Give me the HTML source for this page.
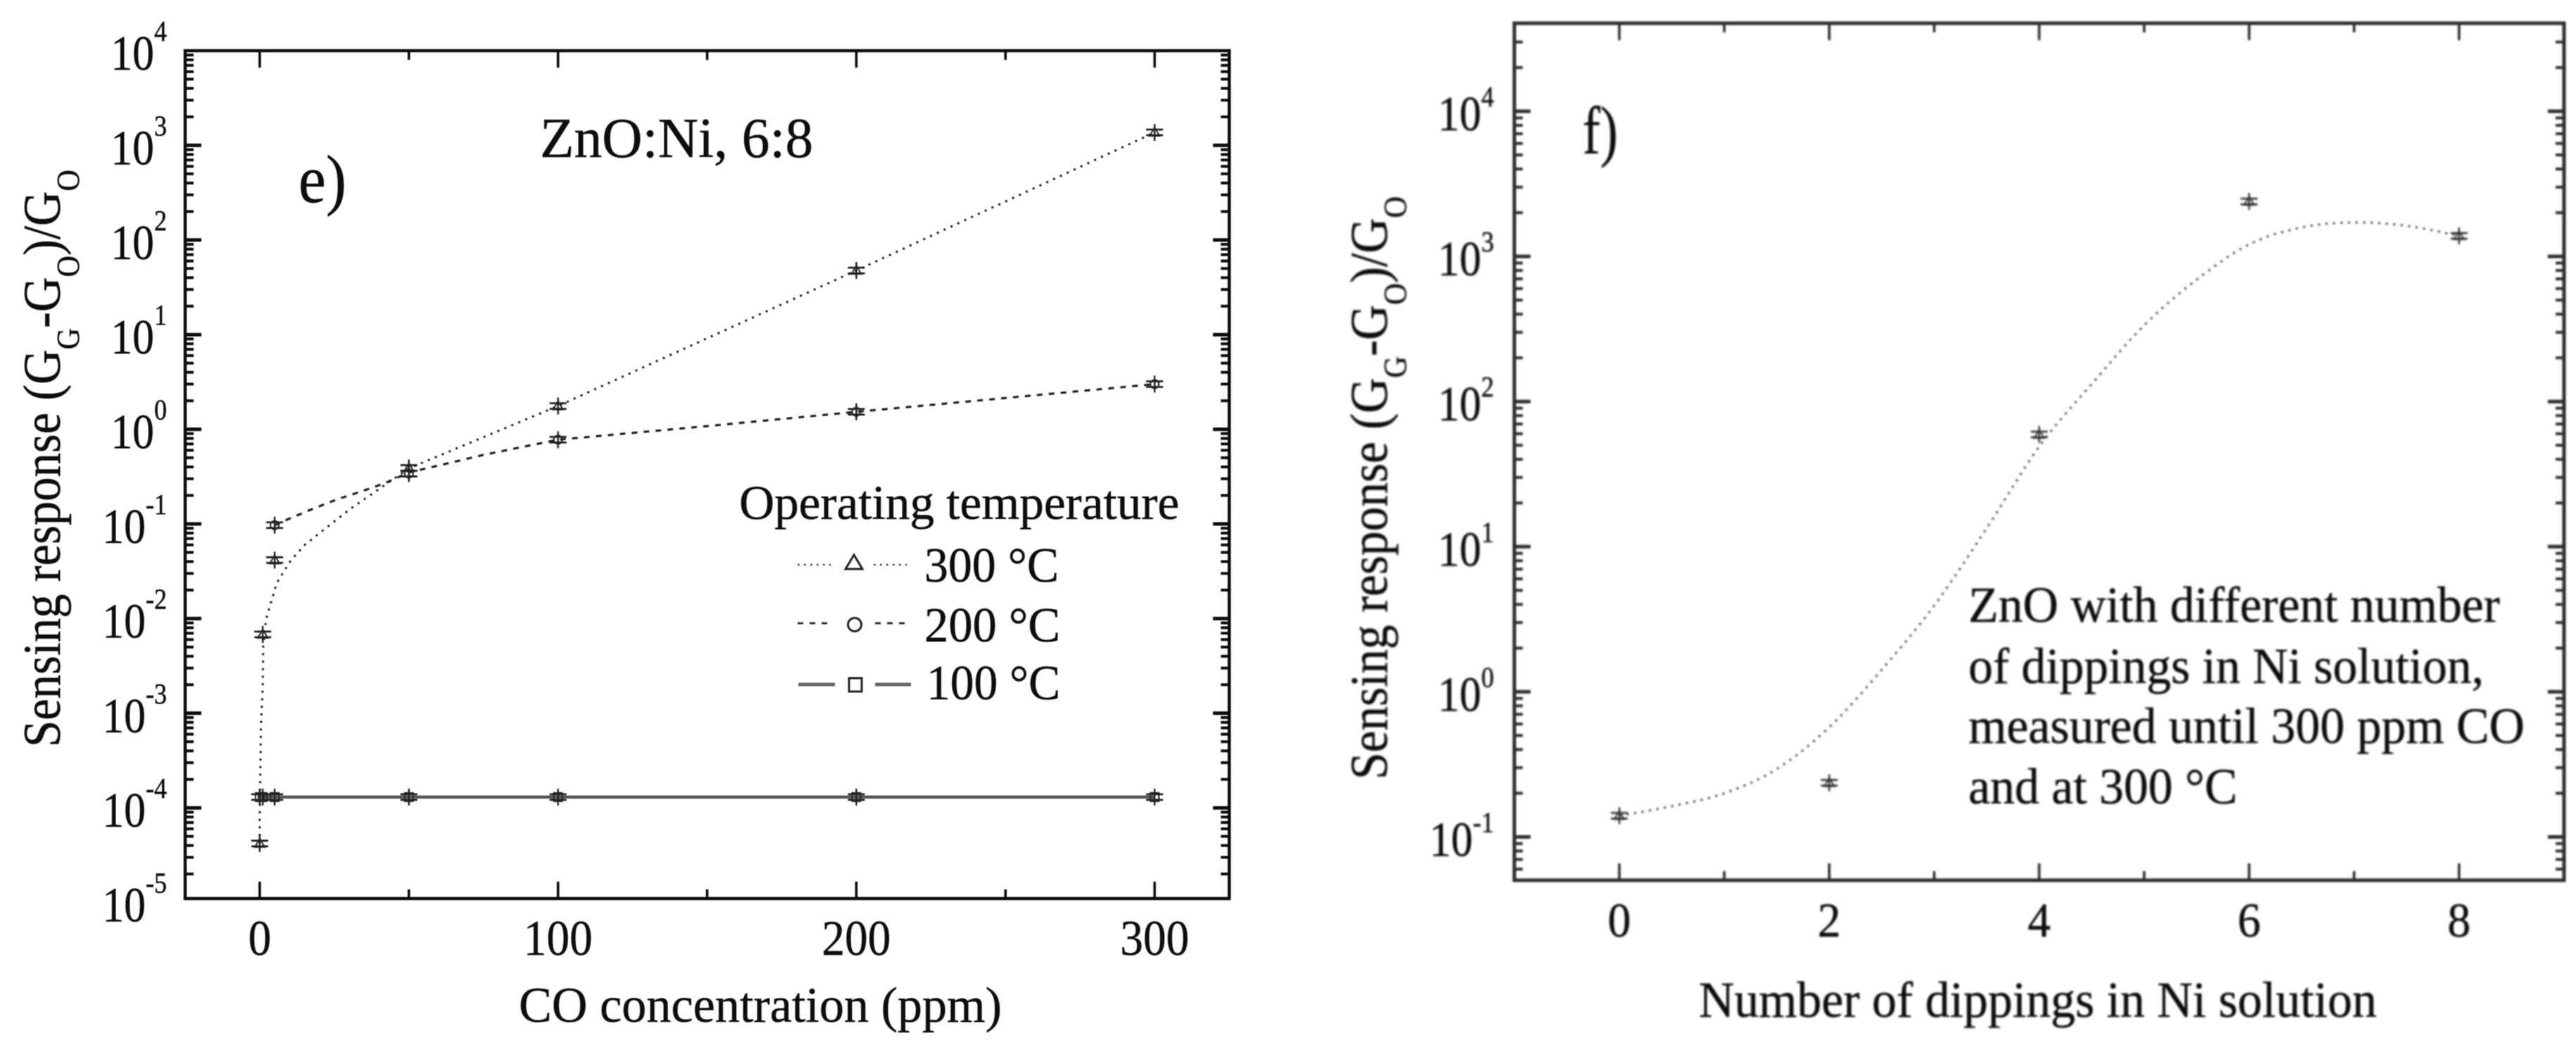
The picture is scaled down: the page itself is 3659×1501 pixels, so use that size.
<!DOCTYPE html>
<html lang="en">
<head>
<meta charset="utf-8">
<title>Sensing response charts</title>
<style>
html,body{margin:0;padding:0;background:#fff;}
svg{display:block;}
text{font-family:"Liberation Serif",serif;fill:#111;stroke:#111;stroke-width:0.5px;}
</style>
</head>
<body>
<svg id="fig" xmlns="http://www.w3.org/2000/svg" width="3659" height="1501" viewBox="0 0 3659 1501">
  <defs>
    <filter id="blurE" filterUnits="userSpaceOnUse" x="0" y="0" width="3659" height="1501"><feGaussianBlur stdDeviation="0.65"/></filter>
    <filter id="blurF" filterUnits="userSpaceOnUse" x="0" y="0" width="3659" height="1501"><feGaussianBlur stdDeviation="1.4"/></filter>
  </defs>
  <rect x="0" y="0" width="3659" height="1501" fill="#fff"/>

  <g id="panelE" filter="url(#blurE)">
    <rect x="263" y="72" width="1483" height="1204" fill="none" stroke="#111" stroke-width="4.5"/>
    <text x="424" y="287" font-size="96" textLength="68" lengthAdjust="spacingAndGlyphs">e)</text>
    <text x="767" y="223" font-size="80" textLength="388" lengthAdjust="spacingAndGlyphs">ZnO:Ni, 6:8</text>
    <text transform="translate(85 1061) rotate(-90) scale(0.916 1)" font-size="75">Sensing response (G<tspan font-size="46" dy="27">G</tspan><tspan dy="-27">-G</tspan><tspan font-size="46" dy="27">O</tspan><tspan dy="-27">)/G</tspan><tspan font-size="46" dy="27">O</tspan></text>
    <text x="737" y="1451" font-size="71" textLength="686" lengthAdjust="spacingAndGlyphs">CO concentration (ppm)</text>

    <g>
      <text x="1050" y="737" font-size="69" textLength="625" lengthAdjust="spacingAndGlyphs">Operating temperature</text>
      <g>
        <line x1="1133" y1="802" x2="1180" y2="802" stroke="#333" stroke-width="2.5" stroke-dasharray="2.5 6.5"/>
        <polygon points="1213,788 1201,808 1225,808" fill="none" stroke="#222" stroke-width="3"/>
        <line x1="1241" y1="802" x2="1288" y2="802" stroke="#333" stroke-width="2.5" stroke-dasharray="2.5 6.5"/>
        <text x="1313" y="826" font-size="70" textLength="191" lengthAdjust="spacingAndGlyphs">300 °C</text>
      </g>
      <g>
        <line x1="1133" y1="885" x2="1180" y2="885" stroke="#333" stroke-width="3" stroke-dasharray="8 9"/>
        <circle cx="1214" cy="887" r="9.5" fill="none" stroke="#222" stroke-width="3"/>
        <line x1="1243" y1="885" x2="1288" y2="885" stroke="#333" stroke-width="3" stroke-dasharray="8 9"/>
        <text x="1313" y="911" font-size="70" textLength="193" lengthAdjust="spacingAndGlyphs">200 °C</text>
      </g>
      <g>
        <line x1="1134" y1="972" x2="1186" y2="972" stroke="#666" stroke-width="5"/>
        <rect x="1206" y="963" width="18" height="19" fill="none" stroke="#222" stroke-width="3"/>
        <line x1="1243" y1="972" x2="1294" y2="972" stroke="#666" stroke-width="5"/>
        <text x="1316" y="993" font-size="70" textLength="190" lengthAdjust="spacingAndGlyphs">100 °C</text>
      </g>
    </g>
  </g>

  <g id="panelF" filter="url(#blurF)">
    <rect x="2151" y="33" width="1491" height="1217" fill="none" stroke="#2a2a2a" stroke-width="5"/>
    <text x="2248" y="218" font-size="96" textLength="50" lengthAdjust="spacingAndGlyphs">f)</text>
    <text transform="translate(1970 1107) rotate(-90) scale(0.925 1)" font-size="75">Sensing response (G<tspan font-size="46" dy="27">G</tspan><tspan dy="-27">-G</tspan><tspan font-size="46" dy="27">O</tspan><tspan dy="-27">)/G</tspan><tspan font-size="46" dy="27">O</tspan></text>
    <text x="2413" y="1444" font-size="72" textLength="963" lengthAdjust="spacingAndGlyphs">Number of dippings in Ni solution</text>
    <g>
      <text x="2796" y="883" font-size="72" textLength="755" lengthAdjust="spacingAndGlyphs">ZnO with different number</text>
      <text x="2796" y="970" font-size="72" textLength="732" lengthAdjust="spacingAndGlyphs">of dippings in Ni solution,</text>
      <text x="2796" y="1055" font-size="72" textLength="790" lengthAdjust="spacingAndGlyphs">measured until 300 ppm CO</text>
      <text x="2796" y="1141" font-size="72" textLength="382" lengthAdjust="spacingAndGlyphs">and at 300 °C</text>
    </g>
  </g>
</svg>

<script>
// ----- Panel e data -----
var xMajorE = [0, 100, 200, 300];
var xMinorE = [50, 150, 250];
var yExpsE = [4, 3, 2, 1, 0, -1, -2, -3, -4, -5];
var conc300 = [0, 1, 5, 50, 100, 200, 300];
var resp300 = [4.2e-5, 6.8e-3, 0.0415, 0.39, 1.76, 47.6, 1370];
var conc200 = [5, 50, 100, 200, 300];
var resp200 = [0.097, 0.34, 0.776, 1.53, 3.0];
var conc100 = [0, 1, 5, 50, 100, 200, 300];
var resp100 = [1.3e-4, 1.3e-4, 1.3e-4, 1.3e-4, 1.3e-4, 1.3e-4, 1.3e-4];
var curveX300 = [0, 0, 0.25, 0.4, 1, 1.15, 2.1, 4.25, 5.7, 10.4, 15.1, 22.7, 30.2, 37.5, 50, 100, 200, 300];
var curveY300 = [4.2e-5, 7.4e-5, 3.05e-4, 7.1e-4, 1.9e-3, 5.1e-3, 9.7e-3, 0.0166, 0.0237, 0.041, 0.06, 0.093, 0.143, 0.206, 0.387, 1.76, 47.6, 1370];
var curveX200 = [5, 9.7, 17.5, 26, 34, 42, 50, 75, 100, 150, 200, 250, 300];
var curveY200 = [0.097, 0.113, 0.143, 0.182, 0.22, 0.27, 0.349, 0.536, 0.776, 1.08, 1.53, 2.14, 3.0];

// ----- Panel f data -----
var xMajorF = [0, 2, 4, 6, 8];
var xMinorF = [1, 3, 5, 7];
var yExpsF = [4, 3, 2, 1, 0, -1];
var dippings = [0, 2, 4, 6, 8];
var respDip = [0.14, 0.236, 59.3, 2390, 1384];
var fitX = [0, 0.5, 1, 1.5, 2, 2.5, 3, 3.5, 4, 4.5, 5, 5.5, 6, 6.5, 7, 7.5, 8];
var fitY = [0.14, 0.163, 0.2, 0.294, 0.57, 1.42, 3.93, 13.4, 49, 132, 335, 692, 1210, 1585, 1713, 1626, 1384];

var NS = 'http://www.w3.org/2000/svg';
function xE(v) { return 263 + (v + 25) * (1483 / 350); }
function yE(v) { return 72 + (4 - Math.log10(v)) * 134.4; }
function xF(v) { return 2151 + (v + 1) * (1491 / 10); }
function yF(v) { return 158 + (4 - Math.log10(v)) * 206.1; }

function mk(tag, parent, attrs) {
  var n = document.createElementNS(NS, tag);
  for (var k in attrs) { n.setAttribute(k, attrs[k]); }
  parent.appendChild(n);
  return n;
}

function pathFrom(xs, ys, fx, fy) {
  var d = '';
  for (var i = 0; i < xs.length; i++) {
    d += (i ? 'L' : 'M') + fx(xs[i]).toFixed(1) + ' ' + fy(ys[i]).toFixed(1);
  }
  return d;
}

function smoothFrom(xs, ys, fx, fy) {
  var p = xs.map(function (v, i) { return [fx(v), fy(ys[i])]; });
  var d = 'M' + p[0][0].toFixed(1) + ' ' + p[0][1].toFixed(1);
  for (var i = 0; i < p.length - 1; i++) {
    var a = p[Math.max(i - 1, 0)], b = p[i], c = p[i + 1], e = p[Math.min(i + 2, p.length - 1)];
    d += 'C' + (b[0] + (c[0] - a[0]) / 6).toFixed(1) + ' ' + (b[1] + (c[1] - a[1]) / 6).toFixed(1) + ' ' +
      (c[0] - (e[0] - b[0]) / 6).toFixed(1) + ' ' + (c[1] - (e[1] - b[1]) / 6).toFixed(1) + ' ' +
      c[0].toFixed(1) + ' ' + c[1].toFixed(1);
  }
  return d;
}

function drawMarker(parent, shape, cx, cy, color, name) {
  var g = mk('g', parent, {});
  
  
  var v = mk('line', g, { x1: cx, x2: cx, y1: cy - 12, y2: cy + 12, stroke: color, 'stroke-width': 2.5 });
  
  
  var c1 = mk('line', g, { x1: cx - 12, x2: cx + 12, y1: cy - 4, y2: cy - 4, stroke: color, 'stroke-width': 2.8 });
  
  
  var c2 = mk('line', g, { x1: cx - 12, x2: cx + 12, y1: cy + 4, y2: cy + 4, stroke: color, 'stroke-width': 2.8 });
  
  
  var m;
  if (shape === 'triangle') {
    m = mk('polygon', g, { points: (cx) + ',' + (cy - 7) + ' ' + (cx - 7) + ',' + (cy + 5) + ' ' + (cx + 7) + ',' + (cy + 5), fill: 'none', stroke: color, 'stroke-width': 2 });
  } else if (shape === 'circle') {
    m = mk('circle', g, { cx: cx, cy: cy, r: 6, fill: 'none', stroke: color, 'stroke-width': 2 });
  } else {
    m = mk('rect', g, { x: cx - 6, y: cy - 6, width: 12, height: 12, fill: 'none', stroke: color, 'stroke-width': 2 });
  }
  
  
}

function drawAxes(parent, cfg) {
  var i, t, s;
  var ticks = mk('g', parent, {});
  
  
  var all = cfg.xMajor.map(function (v) { return [v, 24]; }).concat(cfg.xMinor.map(function (v) { return [v, 13]; }));
  for (i = 0; i < all.length; i++) {
    t = mk('line', ticks, { x1: cfg.x(all[i][0]), x2: cfg.x(all[i][0]), y1: cfg.top, y2: cfg.top + all[i][1], stroke: cfg.color, 'stroke-width': 3.6 });
    
    
    s = mk('line', ticks, { x1: cfg.x(all[i][0]), x2: cfg.x(all[i][0]), y1: cfg.bottom, y2: cfg.bottom - all[i][1], stroke: cfg.color, 'stroke-width': 3.6 });
    
    
  }
  for (var e = cfg.minExp - 1; e <= cfg.maxExp + 1; e++) {
    for (var m = 1; m < 10; m++) {
      var y = cfg.y(m * Math.pow(10, e));
      if (y < cfg.top + 2 || y > cfg.bottom - 2) { continue; }
      var len = m === 1 ? 23 : 12;
      var sw = m === 1 ? 5 : 4;
      t = mk('line', ticks, { x1: cfg.left, x2: cfg.left + len, y1: y, y2: y, stroke: cfg.color, 'stroke-width': sw });
      
      
      s = mk('line', ticks, { x1: cfg.right, x2: cfg.right - len, y1: y, y2: y, stroke: cfg.color, 'stroke-width': sw });
      
      
    }
  }
  for (i = 0; i < cfg.xMajor.length; i++) {
    t = mk('text', parent, { transform: 'translate(' + cfg.x(cfg.xMajor[i]) + ' ' + cfg.xLabelY + ') scale(' + cfg.xScale + ' 1)', 'font-size': cfg.xFont, 'text-anchor': 'middle' });
    
    
    t.textContent = String(cfg.xMajor[i]);
  }
  for (i = 0; i < cfg.exps.length; i++) {
    var ty = cfg.y(Math.pow(10, cfg.exps[i])) + 27;
    t = mk('text', parent, { transform: 'translate(' + cfg.labelRight + ' ' + ty + ') scale(0.88 1)', 'font-size': 70, 'text-anchor': 'end' });
    
    
    var base = mk('tspan', t, {});
    base.textContent = '10';
    var sup = mk('tspan', t, { dy: -cfg.supRise, 'font-size': 41 });
    sup.textContent = String(cfg.exps[i]);
  }
}

var panelE = document.getElementById('panelE');
var panelF = document.getElementById('panelF');

drawAxes(panelE, {
  id: 'panel-e', xMajor: xMajorE, xMinor: xMinorE, exps: yExpsE, x: xE, y: yE,
  top: 72, bottom: 1276, left: 263, right: 1746, color: '#111',
  minExp: -5, maxExp: 4, xLabelY: 1356, xFont: 71, xScale: 0.92, labelRight: 237, supRise: 41
});
drawAxes(panelF, {
  id: 'panel-f', xMajor: xMajorF, xMinor: xMinorF, exps: yExpsF, x: xF, y: yF,
  top: 33, bottom: 1250, left: 2151, right: 3642, color: '#2a2a2a',
  minExp: -2, maxExp: 4, xLabelY: 1330, xFont: 69, xScale: 0.95, labelRight: 2122, supRise: 34
});

var line300 = mk('path', panelE, { d: pathFrom(curveX300, curveY300, xE, yE), fill: 'none', stroke: '#222', 'stroke-width': 3, 'stroke-dasharray': '3 7.7' });


var line200 = mk('path', panelE, { d: pathFrom(curveX200, curveY200, xE, yE), fill: 'none', stroke: '#222', 'stroke-width': 3.2, 'stroke-dasharray': '8 9' });


var line100 = mk('path', panelE, { d: pathFrom(conc100, resp100, xE, yE), fill: 'none', stroke: '#555', 'stroke-width': 4.5 });



var k;
for (k = 0; k < conc300.length; k++) { drawMarker(panelE, 'triangle', xE(conc300[k]), yE(resp300[k]), '#222', 'point-300c'); }
for (k = 0; k < conc200.length; k++) { drawMarker(panelE, 'circle', xE(conc200[k]), yE(resp200[k]), '#222', 'point-200c'); }
for (k = 0; k < conc100.length; k++) { drawMarker(panelE, 'square', xE(conc100[k]), yE(resp100[k]), '#222', 'point-100c'); }

var fitLine = mk('path', panelF, { d: smoothFrom(fitX, fitY, xF, yF), fill: 'none', stroke: '#444', 'stroke-width': 3, 'stroke-dasharray': '3 7.7' });


for (k = 0; k < dippings.length; k++) { drawMarker(panelF, 'triangle', xF(dippings[k]), yF(respDip[k]), '#333', 'point-dipping'); }
</script>
</body>
</html>
